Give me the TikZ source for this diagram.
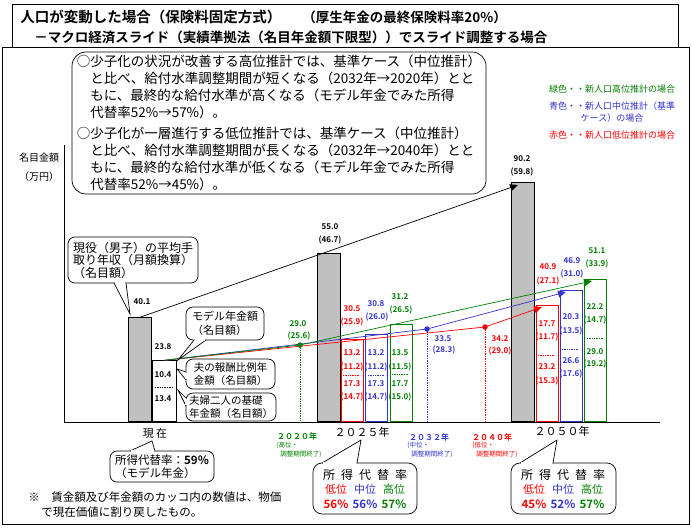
\documentclass[tikz,border=0pt]{standalone}
\usepackage{fontspec}
\setmainfont{Noto Sans CJK JP}[BoldFont={Noto Sans CJK JP Bold}]
\usetikzlibrary{arrows.meta}
\definecolor{hi}{HTML}{008000}
\definecolor{mid}{HTML}{3333CC}
\definecolor{lo}{HTML}{FF0000}
\definecolor{barfill}{HTML}{C0C0C0}
\newcommand{\fsz}[1]{\fontsize{#1}{#1}\selectfont}
\begin{document}
\begin{tikzpicture}[x=1pt,y=-1pt,line width=0.7pt,
    every node/.style={inner sep=0pt},
    bar/.style={draw,anchor=south west,minimum width=23pt},
    cbar/.style={bar,line width=1.1pt,fill=white,draw=#1,minimum width=22pt},
    num/.style={font={\fsz{8}\bfseries}},
    box/.style={draw,fill=white,rounded corners=7pt,align=left,inner xsep=4pt,inner ysep=2pt,outer sep=0pt},
    dot/.style={circle,fill=#1,minimum size=5.5pt},
    tip/.style={-{Triangle[length=8pt,width=7pt]}},
    gap/.style={white,line width=1.5pt}]
  \useasboundingbox (0,0) rectangle (692,527);
  % frame and title
  \draw (2,47) rectangle (689,524);
  \node[draw,anchor=north west,minimum width=666pt,minimum height=43pt] (title) at (12,4) {};
  \node[anchor=west,font={\fsz{14.5}\bfseries}] (t1) at (20,17) {人口が変動した場合（保険料固定方式）};
  \node[anchor=west,font={\fsz{13.5}\bfseries}] (t2) at (302,17) {（厚生年金の最終保険料率20\%）};
  \node[anchor=west,font={\fsz{13.5}\bfseries}] (t3) at (34,37) {－マクロ経済スライド（実績準拠法（名目年金額下限型））でスライド調整する場合};
  % memo and key
  \node[box,rounded corners=14pt,anchor=north west,minimum width=414pt,minimum height=142pt,
    font=\fontsize{13.5}{17}\selectfont] (memo) at (72,52)
    {○少子化の状況が改善する高位推計では、基準ケース（中位推計）\\
     \phantom{○}と比べ、給付水準調整期間が短くなる（2032年→2020年）とと\\
     \phantom{○}もに、最終的な給付水準が高くなる（モデル年金でみた所得\\
     \phantom{○}代替率52\%→57\%）。\\[4pt]
     ○少子化が一層進行する低位推計では、基準ケース（中位推計）\\
     \phantom{○}と比べ、給付水準調整期間が長くなる（2032年→2040年）とと\\
     \phantom{○}もに、最終的な給付水準が低くなる（モデル年金でみた所得\\
     \phantom{○}代替率52\%→45\%）。};
  \node[draw,double,double distance=1.5pt,minimum width=140pt,minimum height=66pt,align=center,
    font=\fontsize{9}{12}\selectfont] (key) at (612,112)
    {{\color{hi}緑色・・新人口高位推計の場合}\\[5pt]
     {\color{mid}青色・・新人口中位推計（基準}\\
     {\color{mid}ケース）の場合}\\[5pt]
     {\color{lo}赤色・・新人口低位推計の場合}};
  \node[font=\fontsize{10}{19}\selectfont,align=center] (unit) at (39,167) {名目金額\\（万円）};
  % axes
  \coordinate (top) at (64,145);
  \coordinate (o) at (64,422);
  \coordinate (end) at (660,422);
  \draw (top) -- (o) -- (end);
  % bars
  \node[bar,fill=barfill,minimum height=104pt] (w0) at (128,422) {};
  \node[bar,fill=white,minimum height=61pt,minimum width=24pt] (c0) at (152,422) {};
  \node[bar,fill=barfill,minimum height=168pt] (w25) at (317,422) {};
  \node[cbar=lo,minimum height=82pt] (r25) at (340.5,422) {};
  \node[cbar=mid,minimum height=87pt] (m25) at (365,422) {};
  \node[cbar=hi,minimum height=97pt] (h25) at (389.5,422) {};
  \node[bar,fill=barfill,minimum height=239pt] (w50) at (511,422) {};
  \node[cbar=lo,minimum height=116pt] (r50) at (535.5,422) {};
  \node[cbar=mid,minimum height=131pt] (m50) at (559.5,422) {};
  \node[cbar=hi,minimum height=142pt] (h50) at (584,422) {};
  \draw[densely dotted] (155,387) -- (173,387);
  \draw[lo,densely dotted] (343,375) -- (360,375);
  \draw[mid,densely dotted] (368,375) -- (385,375);
  \draw[hi,densely dotted] (392,374) -- (409,374);
  \draw[lo,densely dotted] (538,355) -- (555,355);
  \draw[mid,densely dotted] (562,349) -- (579,349);
  \draw[hi,densely dotted] (587,338) -- (604,338);
  % lines
  \coordinate (d20) at (300,345);
  \coordinate (d32) at (427,329);
  \coordinate (d40) at (485,327);
  \coordinate (wT) at (518,185);
  \coordinate (lT) at (542,307);
  \coordinate (mT) at (566,292);
  \coordinate (hT) at (592,281);
  \draw[tip] (w0.north) -- (wT);
  \draw[lo,tip] (c0.north) -- (d40) -- (lT);
  \draw[mid,tip] (c0.north) -- (d32) -- (mT);
  \draw[hi,tip] (c0.north) -- (d20) -- (hT);
  \draw[hi,densely dotted] (d20) -- (d20 |- o);
  \draw[mid,densely dotted] (d32) -- (d32 |- o);
  \draw[lo,densely dotted] (d40) -- (d40 |- o);
  \node[dot=hi] (p20) at (d20) {};
  \node[dot=mid] (p32) at (d32) {};
  \node[dot=lo] (p40) at (d40) {};
  % values
  \foreach \x/\y/\t [count=\i] in {142/302/40.1, 163/347/23.8, 163/375/10.4, 163/399/13.4,
      330/227/55.0, 330/240/(46.7), 522/159/90.2, 522/172/(59.8)}
    \node[num] (k\i) at (\x,\y) {\t};
  \foreach \x/\y/\t [count=\i] in {352/309/30.5, 352/322/(25.9), 352/353/13.2, 352/367/(11.2),
      352/384/17.3, 352/397/(14.7), 500/339/34.2, 500/351/(29.0), 548/267/40.9, 548/281/(27.1),
      547/324/17.7, 547/337/(11.7), 547/367/23.2, 547/381/(15.3)}
    \node[num,lo] (l\i) at (\x,\y) {\t};
  \foreach \x/\y/\t [count=\i] in {376/304/30.8, 377/317/(26.0), 376/353/13.2, 376/367/(11.2),
      376/384/17.3, 376/397/(14.7), 443/339/33.5, 444/350/(28.3), 572/261/46.9, 572/274/(31.0),
      571/317/20.3, 571/331/(13.5), 571/361/26.6, 571/374/(17.6)}
    \node[num,mid] (m\i) at (\x,\y) {\t};
  \foreach \x/\y/\t [count=\i] in {298/324/29.0, 299/336/(25.6), 400/297/31.2, 401/310/(26.5),
      400/353/13.5, 400/367/(11.5), 400/384/17.7, 400/397/(15.0), 597/251/51.1, 597/264/(33.9),
      595/307/22.2, 595/320/(14.7), 595/352/29.0, 595/364/(19.2)}
    \node[num,hi] (h\i) at (\x,\y) {\t};
  % callouts on the bars
  \coordinate (cwT) at (130,314);
  \coordinate (mpT) at (178,360);
  \coordinate (hpT) at (177,369);
  \coordinate (bpT) at (178,390);
  \node[box,anchor=north west,minimum width=130pt,minimum height=46pt,
    font=\fontsize{12}{12.5}\selectfont] (cw) at (68,237) {現役（男子）の平均手\\取り年収（月額換算）\\（名目額）};
  \draw[fill=white] ([xshift=-19pt]cw.south) -- (cwT) -- ([xshift=-7pt]cw.south);
  \draw[gap] ([xshift=-18.3pt]cw.south) -- ([xshift=-7.7pt]cw.south);
  \node[box,anchor=north west,minimum width=78pt,minimum height=33pt,
    font=\fontsize{11}{14}\selectfont] (mp) at (186,307) {モデル年金額\\（名目額）};
  \draw[fill=white] ([xshift=-31pt]mp.south) -- (mpT) -- ([xshift=-19pt]mp.south);
  \draw[gap] ([xshift=-30.3pt]mp.south) -- ([xshift=-19.7pt]mp.south);
  \node[box,anchor=north west,minimum width=89pt,minimum height=30pt,inner xsep=3pt,
    font=\fontsize{10.5}{13}\selectfont] (hp) at (186,359) {夫の報酬比例年\\金額（名目額）};
  \draw[fill=white] ([yshift=2pt]hp.west) -- (hpT) -- ([yshift=-6pt]hp.west);
  \draw[gap] ([yshift=1.3pt]hp.west) -- ([yshift=-5.3pt]hp.west);
  \node[box,anchor=north west,minimum width=89pt,minimum height=28pt,inner xsep=3pt,
    font=\fontsize{10.5}{13}\selectfont] (bp) at (186,393) {夫婦二人の基礎\\年金額（名目額）};
  \draw[fill=white] ([yshift=9pt]bp.west) -- (bpT) -- ([yshift=1pt]bp.west);
  \draw[gap] ([yshift=8.3pt]bp.west) -- ([yshift=1.7pt]bp.west);
  % years
  \node[font=\fsz{11}] (now) at (155,433) {現 在};
  \node[font=\fsz{11}] (y25) at (362,432) {２０２５年};
  \node[font=\fsz{11}] (y50) at (562,431) {２０５０年};
  \node[hi,font={\fsz{8}\bfseries}] (y20) at (297,436) {２０２０年};
  \node[mid,font={\fsz{8}\bfseries}] (y32) at (429,437) {２０３２年};
  \node[lo,font={\fsz{8}\bfseries}] (y40) at (492,437) {２０４０年};
  \node[hi,anchor=north west,align=left,font=\fontsize{6.5}{9}\selectfont] (e20) at (276,442) {(高位・\\\hspace*{4pt}調整期間終了)};
  \node[mid,anchor=north west,align=left,font=\fontsize{6.5}{9}\selectfont] (e32) at (407,442) {(中位・\\\hspace*{4pt}調整期間終了)};
  \node[lo,anchor=north west,align=left,font=\fontsize{6.5}{9}\selectfont] (e40) at (472,442) {(低位・\\\hspace*{4pt}調整期間終了)};
  % replacement rates
  \coordinate (t0) at (152,441);
  \coordinate (t25) at (361,440);
  \coordinate (t50) at (557,440);
  \node[box,minimum width=104pt,minimum height=31pt,font=\fontsize{11.5}{13}\selectfont] (rr0) at (162,466.5)
    {所得代替率：\textbf{59\%}\\（モデル年金）};
  \draw[fill=white] ([xshift=-32pt]rr0.north) -- (t0) -- ([xshift=-7pt]rr0.north);
  \draw[gap] ([xshift=-31.3pt]rr0.north) -- ([xshift=-7.7pt]rr0.north);
  \node[box,rounded corners=9pt,minimum width=104pt,minimum height=51pt] (rr25) at (365,488.5) {};
  \draw[fill=white] ([xshift=-43pt]rr25.north) -- (t25) -- ([xshift=-8pt]rr25.north);
  \draw[gap] ([xshift=-42.3pt]rr25.north) -- ([xshift=-8.7pt]rr25.north);
  \node[box,rounded corners=9pt,minimum width=105pt,minimum height=51pt] (rr50) at (563.5,488.5) {};
  \draw[fill=white] ([xshift=-43.5pt]rr50.north) -- (t50) -- ([xshift=-10.5pt]rr50.north);
  \draw[gap] ([xshift=-42.8pt]rr50.north) -- ([xshift=-11.2pt]rr50.north);
  \node[font=\fsz{12}] (s25) at (365,475) {所\enskip 得\enskip 代\enskip 替\enskip 率};
  \node[font=\fsz{12}] (s50) at (563,475) {所\enskip 得\enskip 代\enskip 替\enskip 率};
  \foreach \dx/\c/\p [count=\i] in {-29/lo/56, 0/mid/56, 29/hi/57} {
    \node[\c,font=\fsz{11}] (a\i) at (365+\dx,489) {\ifcase\i\or 低位\or 中位\or 高位\fi};
    \node[\c,font={\fsz{11.5}\bfseries}] (b\i) at (365+\dx,504) {\p\%};
  }
  \foreach \dx/\c/\p [count=\i] in {-29/lo/45, 0/mid/52, 29/hi/57} {
    \node[\c,font=\fsz{11}] (f\i) at (563+\dx,489) {\ifcase\i\or 低位\or 中位\or 高位\fi};
    \node[\c,font={\fsz{11.5}\bfseries}] (g\i) at (563+\dx,504) {\p\%};
  }
  % note
  \node[anchor=north west,align=left,font=\fontsize{11.5}{15}\selectfont] (fn) at (28,491)
    {※　賃金額及び年金額のカッコ内の数値は、物価\\\hspace*{13pt}で現在価値に割り戻したもの。};
\end{tikzpicture}
\end{document}
